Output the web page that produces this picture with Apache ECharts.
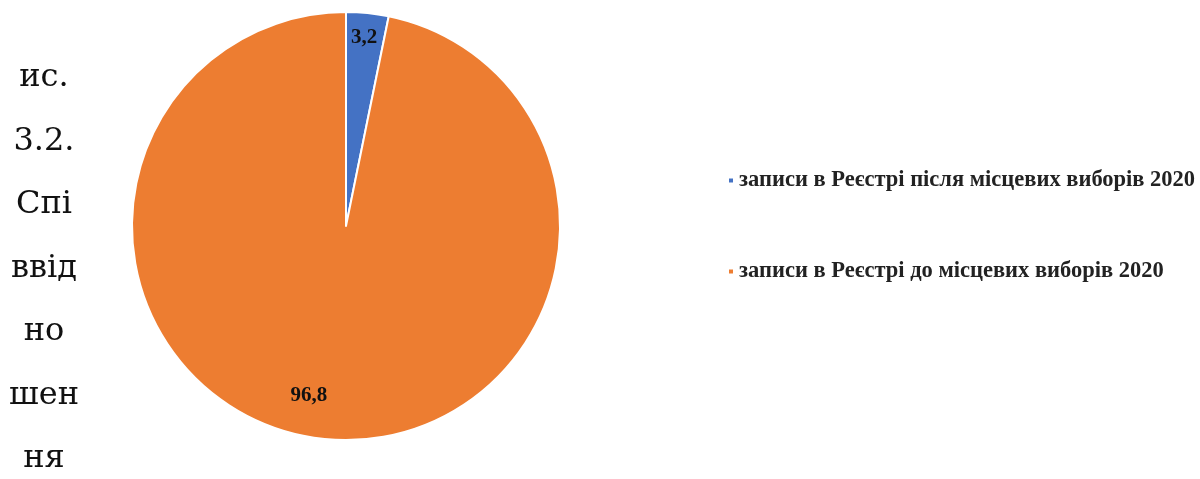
<!DOCTYPE html>
<html>
<head>
<meta charset="utf-8">
<script src="https://cdn.jsdelivr.net/npm/echarts@6/dist/echarts.min.js"></script>
<style>
  html, body { margin: 0; padding: 0; background: #ffffff; }
  #chart { width: 1200px; height: 479px; }
</style>
</head>
<body>
<div id="chart"></div>
<script>
const categories = [
  'записи в Реєстрі після місцевих виборів 2020',
  'записи в Реєстрі до місцевих виборів 2020'
];
const values = [3.2, 96.8];
const colors = ['#4472C4', '#ED7D31'];
const sideTextLines = ['ис.', '3.2.', 'Спі', 'ввід', 'но', 'шен', 'ня'];

const chart = echarts.init(document.getElementById('chart'), null, { renderer: 'canvas' });

const labelShift = [[7, -79], [-26, 60]];

chart.setOption({
  animation: false,
  backgroundColor: '#ffffff',
  color: colors,
  title: {
    text: sideTextLines.join('\n'),
    left: 44,
    top: 46,
    textAlign: 'center',
    padding: 0,
    textStyle: {
      fontFamily: 'DejaVu Serif',
      fontWeight: 'normal',
      fontSize: 32,
      lineHeight: 63.5,
      color: '#111111'
    }
  },
  legend: {
    orient: 'vertical',
    left: 722,
    top: 164,
    itemWidth: 6,
    itemHeight: 6,
    itemGap: 68,
    itemTextGap: 8,
    icon: 'rect',
    data: categories,
    textStyle: {
      fontFamily: 'Liberation Serif',
      fontWeight: 'bold',
      fontSize: 22.5,
      lineHeight: 22,
      color: '#222222'
    }
  },
  series: [{
    type: 'pie',
    center: [346, 226],
    radius: 214,
    startAngle: 90,
    clockwise: true,
    itemStyle: { borderColor: '#ffffff', borderWidth: 2 },
    label: {
      show: true,
      position: 'inside',
      formatter: p => String(p.value).replace('.', ','),
      fontFamily: 'Liberation Serif',
      fontWeight: 'bold',
      fontSize: 21,
      color: '#111111'
    },
    labelLine: { show: false },
    labelLayout: function (params) {
      const s = labelShift[params.dataIndex];
      return { dx: s[0], dy: s[1] };
    },
    emphasis: { disabled: true },
    data: categories.map((name, i) => ({ name: name, value: values[i] }))
  }]
});
</script>
</body>
</html>
